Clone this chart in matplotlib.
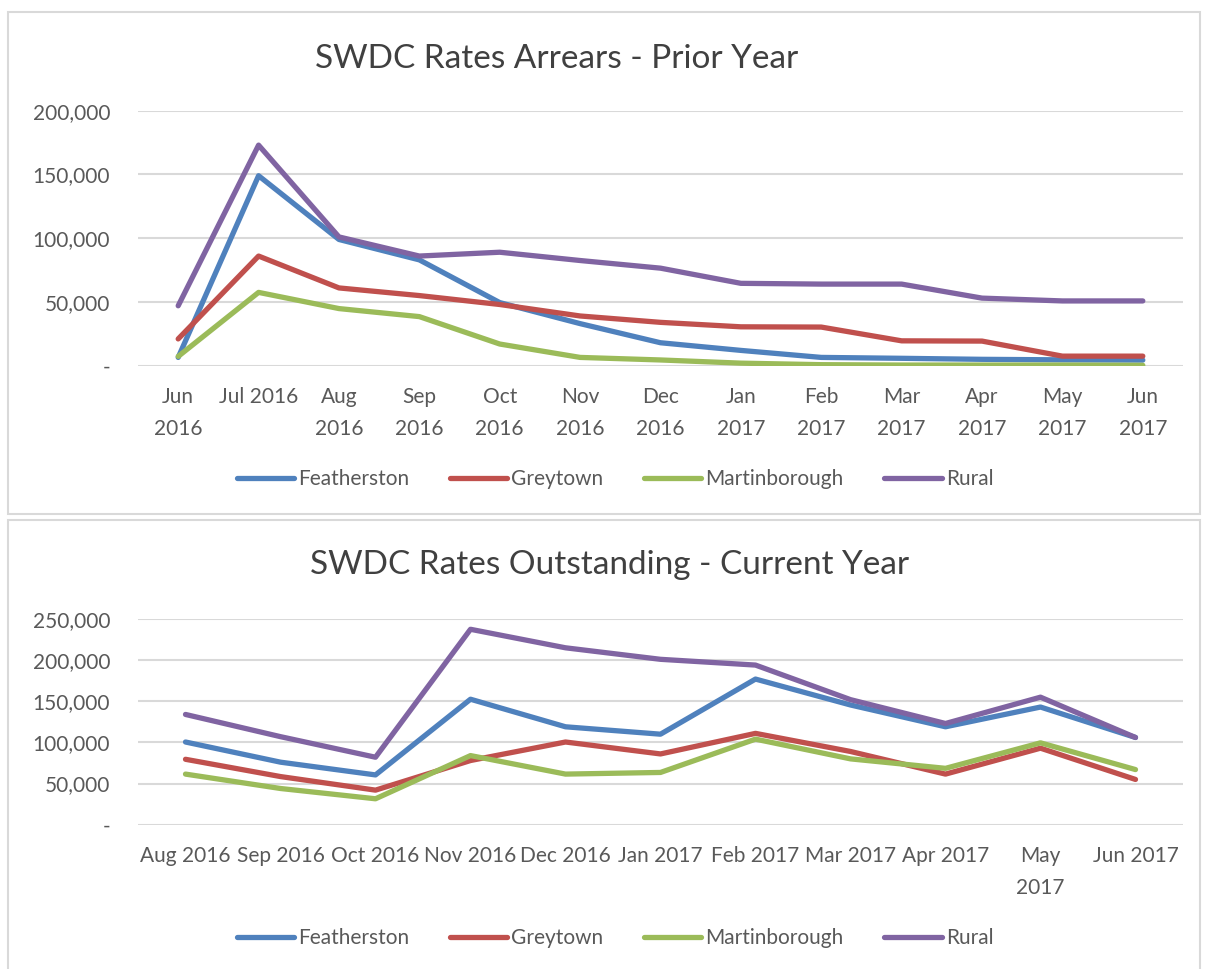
import matplotlib
matplotlib.use("Agg")
import matplotlib.pyplot as plt
from matplotlib.patches import Rectangle
from matplotlib.ticker import FuncFormatter

plt.rcParams['font.family'] = ['Lato', 'DejaVu Sans']

# ---- Data: Prior Year arrears ----
months_prior = ["Jun\n2016", "Jul 2016", "Aug\n2016", "Sep\n2016", "Oct\n2016", "Nov\n2016",
                "Dec\n2016", "Jan\n2017", "Feb\n2017", "Mar\n2017", "Apr\n2017", "May\n2017", "Jun\n2017"]
feath_prior = [6500, 149000, 99000, 83000, 49500, 33000, 18000, 12000, 6500, 5800, 5000, 4600, 4400]
grey_prior = [21000, 86000, 61000, 55000, 48000, 39000, 34000, 30500, 30300, 19500, 19300, 7500, 7500]
mart_prior = [7300, 57500, 44800, 38500, 17000, 6500, 4500, 2000, 800, 500, 500, 500, 300]
rural_prior = [47000, 173000, 101000, 86000, 89000, 82500, 76500, 64600, 64000, 64000, 53000, 50800, 50800]

# ---- Data: Current Year outstanding ----
months_curr = ["Aug 2016", "Sep 2016", "Oct 2016", "Nov 2016", "Dec 2016", "Jan 2017",
               "Feb 2017", "Mar 2017", "Apr 2017", "May\n2017", "Jun 2017"]
feath_curr = [100500, 76000, 60500, 152500, 119000, 110000, 177000, 145500, 119000, 143000, 106000]
grey_curr = [79500, 58500, 42000, 78000, 100500, 86000, 111000, 89000, 61500, 93000, 55000]
mart_curr = [61500, 44000, 31500, 84000, 61500, 63500, 104000, 80000, 68500, 99500, 67000]
rural_curr = [134000, 107000, 82000, 237500, 215000, 201000, 194000, 152000, 123000, 155000, 106000]

series_names = ["Featherston", "Greytown", "Martinborough", "Rural"]
colors = ["#4F81BD", "#C0504D", "#9BBB59", "#8064A2"]

W, H = 1209, 969
fig = plt.figure(figsize=(W / 100, H / 100), dpi=100)

def fx(px):
    return px / W

def fy(py):
    return 1 - py / H

# panel borders
for (x0, y0, x1, y1) in [(8, 12, 1200, 514), (8, 520, 1200, 990)]:
    fig.patches.append(Rectangle((fx(x0), fy(y1)), fx(x1 - x0), (y1 - y0) / H,
                                 transform=fig.transFigure, fill=False,
                                 edgecolor="#D9D9D9", linewidth=1.5, zorder=0))

tick_color = "#595959"
fmt = FuncFormatter(lambda v, p: "-" if v == 0 else f"{int(v):,}")

def make_panel(left, right, top, bottom, labels, data, ymax, step, title, tx, ty, ly):
    ax = fig.add_axes([fx(left), fy(bottom), fx(right - left), (bottom - top) / H])
    x = list(range(len(labels)))
    for vals, c, n in zip(data, colors, series_names):
        ax.plot(x, vals, color=c, linewidth=3.8, label=n, solid_capstyle='round',
                solid_joinstyle='round', zorder=3)
    ax.set_xlim(-0.5, len(labels) - 0.5)
    ax.set_ylim(0, ymax)
    ax.set_yticks(list(range(0, ymax + 1, step)))
    ax.yaxis.set_major_formatter(fmt)
    ax.set_xticks(x)
    ax.set_xticklabels(labels, linespacing=1.75, va='top')
    ax.grid(axis='y', color="#D9D9D9", linewidth=1.5, zorder=0)
    ax.set_axisbelow(True)
    for s in ax.spines.values():
        s.set_visible(False)
    ax.tick_params(axis='both', length=0, labelsize=15, labelcolor=tick_color)
    ax.tick_params(axis='y', pad=20)
    ax.tick_params(axis='x', pad=15)
    fig.text(fx(tx), fy(ty), title, ha='center', va='center', fontsize=24, color="#404040")
    leg = fig.legend(handles=ax.get_lines(), labels=series_names, loc='center',
                     bbox_to_anchor=(fx(615), fy(ly)), ncol=4, frameon=False,
                     fontsize=15, handlelength=2.75, handletextpad=0.2, columnspacing=1.95)
    for t in leg.get_texts():
        t.set_color(tick_color)
    return ax

make_panel(138, 1183, 110.7, 365.7, months_prior,
           [feath_prior, grey_prior, mart_prior, rural_prior], 200000, 50000,
           "SWDC Rates Arrears - Prior Year", 557, 59, 479)
make_panel(138, 1183, 619, 824.7, months_curr,
           [feath_curr, grey_curr, mart_curr, rural_curr], 250000, 50000,
           "SWDC Rates Outstanding - Current Year", 610, 565, 938)

fig.savefig("out.png", dpi=100)
